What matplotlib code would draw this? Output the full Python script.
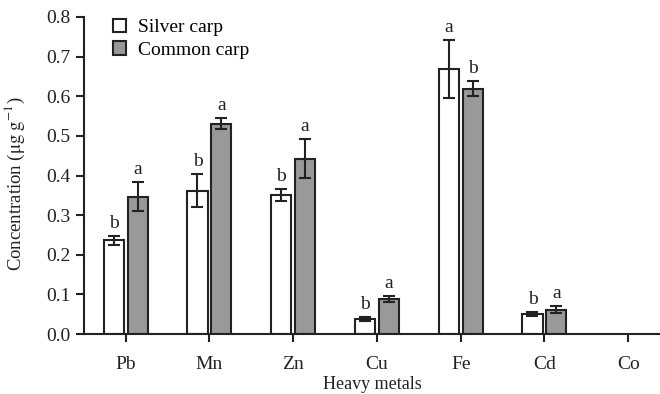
import matplotlib
matplotlib.use("Agg")
import matplotlib.pyplot as plt
import numpy as np

metals = ["Pb", "Mn", "Zn", "Cu", "Fe", "Cd", "Co"]
silver = [0.237, 0.362, 0.351, 0.038, 0.668, 0.051, np.nan]
silver_err = [0.011, 0.042, 0.016, 0.006, 0.073, 0.005, np.nan]
common = [0.347, 0.531, 0.442, 0.089, 0.619, 0.061, np.nan]
common_err = [0.036, 0.014, 0.049, 0.007, 0.019, 0.009, np.nan]
silver_letters = ["b", "b", "b", "b", "a", "b", ""]
common_letters = ["a", "a", "a", "a", "b", "a", ""]

plt.rcParams['font.family'] = ['Liberation Serif', 'DejaVu Serif']
plt.rcParams['mathtext.fontset'] = 'stix'

fig = plt.figure(figsize=(6.6, 3.94), dpi=100)
ax = fig.add_axes([0.127, 0.152, 0.873, 0.805])

x = np.arange(len(metals))
off = 0.143
w = 0.24
ec = '#222222'
ax.bar(x - off, silver, w, color='white', edgecolor=ec, linewidth=1.5, label='Silver carp', zorder=2)
ax.bar(x + off, common, w, color='#999999', edgecolor=ec, linewidth=1.5, label='Common carp', zorder=2)
ax.errorbar(x - off, silver, yerr=silver_err, fmt='none', ecolor=ec, elinewidth=1.5, capsize=4.5, capthick=1.5, zorder=3)
ax.errorbar(x + off, common, yerr=common_err, fmt='none', ecolor=ec, elinewidth=1.5, capsize=4.5, capthick=1.5, zorder=3)

for i in range(len(metals)):
    if silver_letters[i]:
        ax.text(x[i] - off, silver[i] + silver_err[i] + 0.01, silver_letters[i], ha='center', va='bottom', fontsize=14, color='#222222')
    if common_letters[i]:
        ax.text(x[i] + off, common[i] + common_err[i] + 0.01, common_letters[i], ha='center', va='bottom', fontsize=14, color='#222222')

ax.set_xlim(-0.5, 6.38)
ax.set_ylim(0, 0.8)
ax.set_yticks(np.arange(0, 0.81, 0.1))
ax.set_yticklabels([f"{v:.1f}" for v in np.arange(0, 0.81, 0.1)])
ax.set_xticks(x)
ax.set_xticklabels(metals)
ax.tick_params(axis='both', labelsize=14, colors='#222222', width=1.5, length=6, direction='out')
ax.tick_params(axis='x', pad=10)
for s in ['top', 'right']:
    ax.spines[s].set_visible(False)
for s in ['left', 'bottom']:
    ax.spines[s].set_linewidth(1.5)
    ax.spines[s].set_color('#222222')

ax.set_xlabel("Heavy metals", fontsize=13, color='#222222', labelpad=2)
ax.set_ylabel(r"Concentration ($\mathrm{\mu g\ g^{-1}}$)", fontsize=13.5, color='#222222')
ax.yaxis.set_label_coords(-0.098, 0.475)

ax.legend(loc='upper left', bbox_to_anchor=(0.02, 1.05), frameon=False, fontsize=14,
          handlelength=0.7, handleheight=0.7, handletextpad=0.6, labelspacing=0.25)

fig.savefig("out.png", dpi=100)
